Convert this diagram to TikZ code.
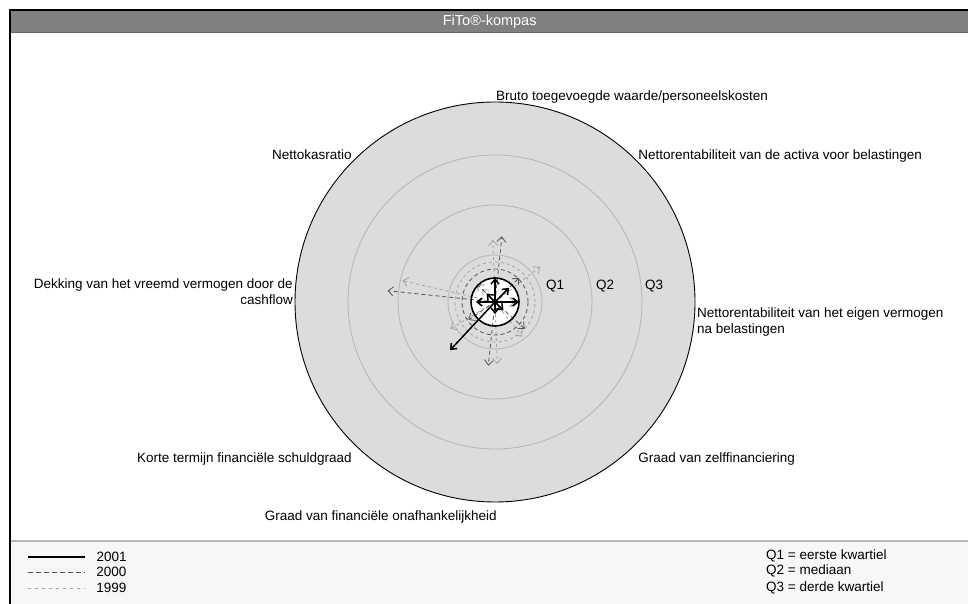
\documentclass[tikz,border=0pt]{standalone}
\usepackage{fontspec}
\setmainfont{Liberation Sans}
\usetikzlibrary{arrows.meta,positioning}
\definecolor{KompasFill}{HTML}{DCDCDC}
\definecolor{KompasRing}{HTML}{B8B8B8}
\definecolor{TitelGrijs}{HTML}{808080}
\definecolor{Jaar2000}{HTML}{555555}
\definecolor{Jaar1999}{HTML}{A2A2A2}
\definecolor{LegendaBg}{HTML}{F7F7F7}

\begin{document}
\begin{tikzpicture}[x=1pt,y=1pt,
    every node/.style={font=\fontsize{13.5}{16}\selectfont, inner sep=1pt},
    ring/.style={draw=KompasRing, line width=0.9pt},
    askop/.style={text=black},
    jaar2001/.style={draw=black, line width=1.5pt, -{Straight Barb[length=5pt,width=8pt]}},
    jaar2000/.style={draw=Jaar2000, line width=0.8pt, dash pattern=on 4pt off 3pt, -{Straight Barb[length=5pt,width=9pt]}},
    jaar1999/.style={draw=Jaar1999, line width=0.8pt, dash pattern=on 3pt off 3pt, -{Straight Barb[length=5pt,width=9pt]}}]
  \useasboundingbox (0,0) rectangle (968,604);
  \fill[white] (0,0) rectangle (968,604);

  % kader en titel
  \fill[LegendaBg] (11,0) rectangle (968,62);
  \draw[KompasRing, line width=1.5pt] (11,63) -- (968,63);
  \node[fill=TitelGrijs, text=white, font=\fontsize{14.5}{16}\selectfont, minimum width=957pt, minimum height=21pt, inner sep=0pt, anchor=north west] (titel) at (11,593) {FiTo®-kompas};
  \draw[line width=0.8pt, black!60] (titel.south west) -- (titel.south east);
  \draw[line width=2pt] (10,0) -- (10,594) -- (968,594);

  % kompas
  \coordinate (C) at (495,302);
  \fill[KompasFill] (C) circle[radius=200];
  \draw[ring] (C) circle[radius=147] (C) circle[radius=97] (C) circle[radius=47];
  \draw[line width=0.9pt] (C) circle[radius=200];
  \node[anchor=west] (q1) at (545,318) {Q1};
  \node[anchor=west] (q2) at (595,318) {Q2};
  \node[anchor=west] (q3) at (644,318) {Q3};

  % assen
  \node[askop, anchor=base west] (bruto) at ([shift={(90:201)}]C) {Bruto toegevoegde waarde/personeelskosten};
  \node[askop, anchor=base west] (activa) at ([shift={(45:201)}]C) {Nettorentabiliteit van de activa voor belastingen};
  \node[askop, anchor=north west, align=left, yshift=-5pt] (eigen) at ([shift={(0:201)}]C) {Nettorentabiliteit van het eigen vermogen\\na belastingen};
  \node[askop, anchor=north west, yshift=-7pt] (zelf) at ([shift={(-45:201)}]C) {Graad van zelffinanciering};
  \node[askop, anchor=north east, xshift=3pt, yshift=-7pt] (onafh) at ([shift={(-90:201)}]C) {Graad van financiële onafhankelijkheid};
  \node[askop, anchor=north east, yshift=-7pt] (korte) at ([shift={(225:201)}]C) {Korte termijn financiële schuldgraad};
  \node[askop, anchor=south east, align=right, yshift=-4pt] (dekking) at ([shift={(180:201)}]C) {Dekking van het vreemd vermogen door de\\cashflow};
  \node[askop, anchor=base east] (kas) at ([shift={(135:201)}]C) {Nettokasratio};

  % jaren
  \fill[white] (C) circle[radius=24];
  \draw[jaar1999, -] (C) circle[radius=40];
  \foreach \a/\l in {167/95, 92/62, 38/57, 0/20, 308/44, 272/62, 211/52, 135/18}
    \draw[jaar1999] (C) -- ++(\a:\l);
  \draw[jaar2000, -] (C) circle[radius=33];
  \foreach \a/\l in {174/108, 84/66, 45/34, 0/22, 318/40, 264/64, 214/32, 135/25}
    \draw[jaar2000] (C) -- ++(\a:\l);
  \draw[line width=1.6pt] (C) circle[radius=24];
  \foreach \a/\l in {90/24, 45/20, 0/24, 315/12, 270/12, 227/66, 180/19, 135/12}
    \draw[jaar2001] (C) -- ++(\a:\l);

  % legenda
  \coordinate (l2001) at (28,47);
  \coordinate (l2000) at (28,32);
  \coordinate (l1999) at (28,16);
  \draw[line width=1.4pt] (l2001) -- ++(57,0) node[anchor=west, xshift=10pt] (t2001) {2001};
  \draw[Jaar2000, line width=0.8pt, dash pattern=on 5pt off 3pt] (l2000) -- ++(57,0) node[anchor=west, xshift=10pt, text=black] (t2000) {2000};
  \draw[Jaar1999, line width=0.8pt, dash pattern=on 3pt off 4pt] (l1999) -- ++(57,0) node[anchor=west, xshift=10pt, text=black] (t1999) {1999};
  \node[anchor=west] (kw1) at (765,48) {Q1 = eerste kwartiel};
  \node[anchor=west] (kw2) at (765,33) {Q2 = mediaan};
  \node[anchor=west] (kw3) at (765,16) {Q3 = derde kwartiel};
\end{tikzpicture}
\end{document}
